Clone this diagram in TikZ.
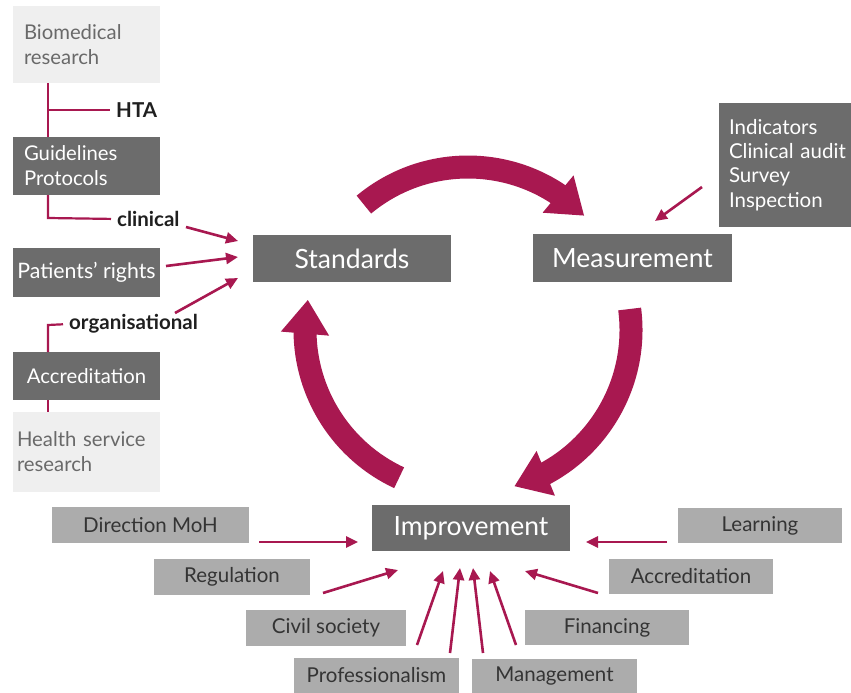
\documentclass[tikz,border=0pt]{standalone}
\usepackage{fontspec}
\setmainfont{Lato}
\usetikzlibrary{arrows.meta,bending}
\definecolor{crim}{RGB}{168,24,80}
\definecolor{dgray}{RGB}{108,108,108}
\definecolor{mgray}{RGB}{172,172,172}
\definecolor{lgray}{RGB}{239,239,239}
\definecolor{mtext}{RGB}{52,52,52}
\definecolor{ltext}{RGB}{105,105,105}
\begin{document}
\begin{tikzpicture}[x=1pt,y=-1pt,
  box/.style={inner sep=0pt,anchor=north west,outer sep=0pt},
  darkbox/.style={box,fill=dgray,text=white},
  midbox/.style={box,fill=mgray,text=mtext,font=\fontsize{20.5}{24}\selectfont},
  lightbox/.style={box,fill=lgray,text=ltext},
  leftfont/.style={font=\fontsize{20.3}{25}\selectfont},
  bigfont/.style={font=\fontsize{26.5}{30}\selectfont},
  tag/.style={inner sep=0pt,anchor=west,text=black!88,font=\fontsize{20.5}{24}\selectfont\bfseries},
  bigarrow/.style={draw=crim,line width=23pt,-{Triangle[length=34pt,width=46pt]}},
  thinarrow/.style={draw=crim,line width=2.6pt,-{Triangle[length=12pt,width=11pt]}},
  redline/.style={draw=crim,line width=2.2pt}]
\useasboundingbox (0,0) rectangle (851,693);
\fill[white] (0,0) rectangle (851,693);

% left column
\node[lightbox,leftfont,minimum width=147,minimum height=77,text width=125,inner xsep=11,align=left] (bio) at (13,6) {Biomedical\\research};
\node[darkbox,leftfont,minimum width=147,minimum height=58,text width=125,inner xsep=11,align=left] (guide) at (13,137) {Guidelines\\Protocols};
\node[darkbox,font=\fontsize{21.3}{25}\selectfont,minimum width=147,minimum height=49] (pat) at (13,248) {Patients' rights};
\node[darkbox,leftfont,minimum width=147,minimum height=48] (accl) at (13,352) {Accreditation};
\node[lightbox,leftfont,minimum width=147,minimum height=80,text width=139,inner xsep=4,align=left] (hsr) at (13,412) {Health service\\research};

\node[tag] (hta) at (116,110) {HTA};
\node[tag] (clin) at (117,219) {clinical};
\node[tag] (org) at (69,324) {organisational};

\coordinate (j1) at (48,110);
\coordinate (j2) at (48,218);
\coordinate (j3) at (48,325);
\draw[redline] (bio.south -| j1) -- (guide.north -| j1);
\draw[redline,shorten >=6pt] (j1) -- (hta.west);
\draw[redline,shorten >=6pt] (guide.south -| j2) -- (j2) -- (clin.west);
\draw[redline,shorten <=6pt] (org.west) -- (j3) -- (accl.north -| j3);
\draw[redline] (accl.south -| j3) -- (hsr.north -| j3);

% main boxes
\node[darkbox,bigfont,minimum width=198,minimum height=47] (std) at (253,235) {Standards};
\node[darkbox,bigfont,minimum width=199,minimum height=48] (meas) at (533,234) {Measurement};
\node[darkbox,bigfont,minimum width=198,minimum height=46] (imp) at (372,505) {Improvement};
\node[darkbox,font=\fontsize{20.5}{24.3}\selectfont,minimum width=132,minimum height=124,text width=112,inner xsep=10,align=left] (ind) at (719,103) {Indicators\\\mbox{Clinical audit}\\Survey\\Inspection};

% bottom boxes
\node[midbox,minimum width=197,minimum height=36] (dir) at (52,507) {Direction MoH};
\node[midbox,minimum width=164,minimum height=35] (learn) at (678,508) {Learning};
\node[midbox,minimum width=156,minimum height=36] (reg) at (154,559) {Regulation};
\node[midbox,minimum width=164,minimum height=35] (accb) at (609,559) {Accreditation};
\node[midbox,minimum width=160,minimum height=36] (civ) at (246,610) {Civil society};
\node[midbox,minimum width=164,minimum height=35] (fin) at (525,610) {Financing};
\node[midbox,minimum width=165,minimum height=35] (prof) at (294,658) {Professionalism};
\node[midbox,minimum width=165,minimum height=34] (mgmt) at (472,659) {Management};

% cycle arrows
\coordinate (cen) at (468,330);
\draw[bigarrow] (cen) ++(-129.7:163) arc[start angle=-129.7,end angle=-44.5,radius=163];
\draw[bigarrow] (cen) ++(-7.4:163) arc[start angle=-7.4,end angle=73.5,radius=163];
\draw[bigarrow] (cen) ++(115:163) arc[start angle=115,end angle=190.7,radius=163];

% thin arrows, left
\coordinate (a1s) at (186,227); \coordinate (a1e) at (238,241);
\coordinate (a2s) at (166,266); \coordinate (a2e) at (238,257);
\coordinate (a3s) at (175,313); \coordinate (a3e) at (238,278);
\draw[thinarrow] (a1s) -- (a1e);
\draw[thinarrow] (a2s) -- (a2e);
\draw[thinarrow] (a3s) -- (a3e);
% indicators arrow
\coordinate (i1s) at (702,187); \coordinate (i1e) at (655,221);
\draw[thinarrow] (i1s) -- (i1e);

% bottom arrows
\coordinate (b1s) at (259,542); \coordinate (b1e) at (358,542);
\coordinate (b2s) at (323,593); \coordinate (b2e) at (398,570);
\coordinate (b3s) at (667,542); \coordinate (b3e) at (586,542);
\coordinate (b4s) at (598,593); \coordinate (b4e) at (525,571);
\coordinate (v1s) at (417,645); \coordinate (v1e) at (443,571);
\coordinate (v2s) at (450,653); \coordinate (v2e) at (460,568);
\coordinate (v3s) at (483,653); \coordinate (v3e) at (473,568);
\coordinate (v4s) at (516,645); \coordinate (v4e) at (490,571);
\foreach \s/\e in {b1s/b1e,b2s/b2e,b3s/b3e,b4s/b4e,v1s/v1e,v2s/v2e,v3s/v3e,v4s/v4e}
  \draw[thinarrow] (\s) -- (\e);
\end{tikzpicture}
\end{document}
